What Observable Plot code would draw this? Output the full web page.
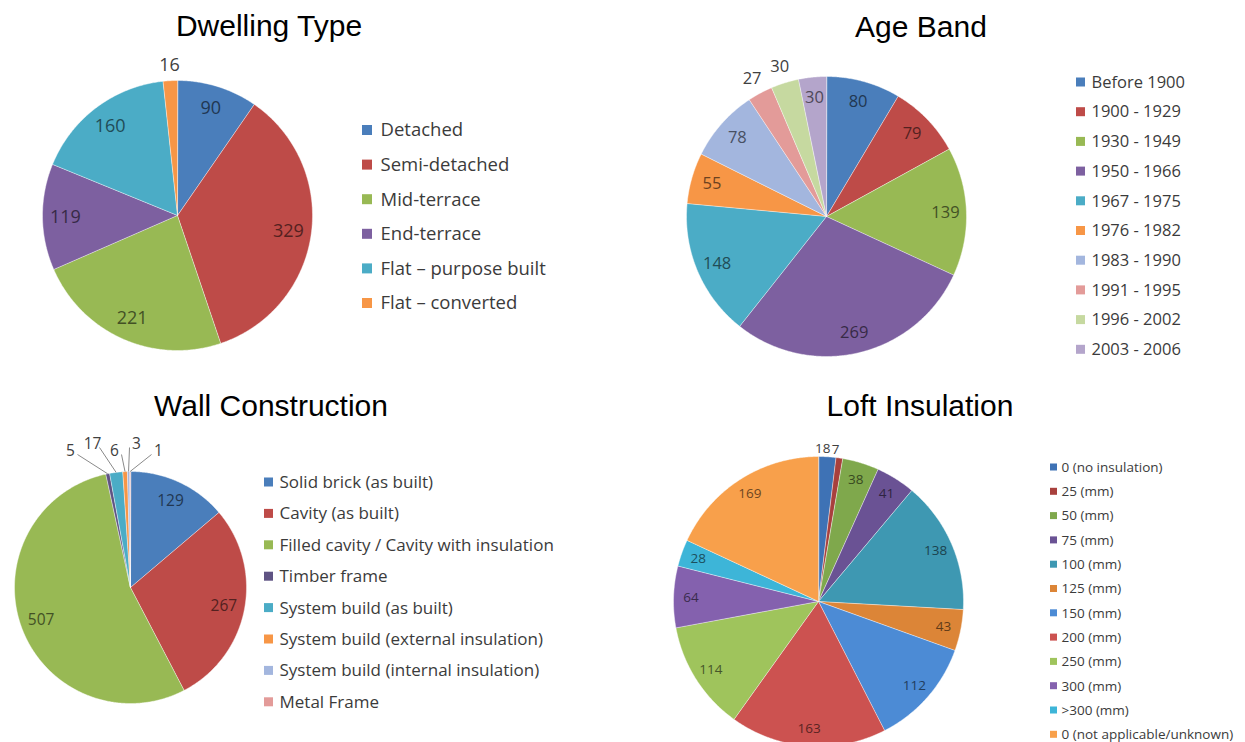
<!DOCTYPE html>
<html><head><meta charset="utf-8">
<script src="https://cdn.jsdelivr.net/npm/d3@7"></script>
<script src="https://cdn.jsdelivr.net/npm/@observablehq/plot@0.6"></script>
<style>
body{margin:0;background:#fff;}
#wrap{position:relative;width:1245px;height:742px;overflow:hidden;background:#fff}
.panel{position:absolute;}
.title{position:absolute;font-family:"Liberation Sans",Arial,sans-serif;font-size:30px;line-height:30px;color:#000;white-space:nowrap;transform:translateX(-50%);}
</style></head><body><div id="wrap"></div>
<script>
// ---------- data ----------
const dwellingCategories = ["Detached","Semi-detached","Mid-terrace","End-terrace","Flat \u2013 purpose built","Flat \u2013 converted"];
const dwellingValues = [90,329,221,119,160,16];
const dwellingColors = ["#4A7EBB","#BE4B48","#98B954","#7D60A0","#4BACC6","#F79646"];
const dwellingLabelMode = ["in","in","in","in","in","out"];

const ageCategories = ["Before 1900","1900 - 1929","1930 - 1949","1950 - 1966","1967 - 1975","1976 - 1982","1983 - 1990","1991 - 1995","1996 - 2002","2003 - 2006"];
const ageValues = [80,79,139,269,148,55,78,27,30,30];
const ageColors = ["#4A7EBB","#BE4B48","#98B954","#7D60A0","#4BACC6","#F79646","#A3B6DE","#E39B99","#C6D9A0","#B4A5CB"];
const ageLabelMode = ["in","in","in","in","in","in","in","out","out","in"];

const wallCategories = ["Solid brick (as built)","Cavity (as built)","Filled cavity / Cavity with insulation","Timber frame","System build (as built)","System build (external insulation)","System build (internal insulation)","Metal Frame"];
const wallValues = [129,267,507,5,17,6,3,1];
const wallColors = ["#4A7EBB","#BE4B48","#98B954","#5F5383","#4BACC6","#F79646","#A3B6DE","#E39B99"];
const wallLabelMode = ["in","in","in","lead","lead","lead","lead","lead"];

const loftCategories = ["0 (no insulation)","25 (mm)","50 (mm)","75 (mm)","100 (mm)","125 (mm)","150 (mm)","200 (mm)","250 (mm)","300 (mm)",">300 (mm)","0 (not applicable/unknown)"];
const loftValues = [18,7,38,41,138,43,112,163,114,64,28,169];
const loftColors = ["#3E72B5","#A8403D","#7FA84C","#6A5294","#3E98B2","#DC8537","#4C8BD5","#CC5250","#9FC45C","#8461AE","#3DB5D8","#F8A04B"];
const loftLabelMode = ["out","out","in","in","in","in","in","in","in","in","in","in"];

// ---------- layout ----------
const charts = [
  {title:"Dwelling Type", cats:dwellingCategories, vals:dwellingValues, colors:dwellingColors, modes:dwellingLabelMode,
   left:0, top:0, w:622, h:371, titleX:269, titleBase:36,
   cx:177, cy:215, r:135, labelK:0.83, labelSize:18, outR:15, outShift:0,
   legX:362, legSq:10, legTextX:380, legY0:130, legStep:34.6, legSize:18.5},
  {title:"Age Band", cats:ageCategories, vals:ageValues, colors:ageColors, modes:ageLabelMode,
   left:622, top:0, w:623, h:371, titleX:299, titleBase:37,
   cx:204, cy:216, r:140, labelK:0.85, labelSize:16.5, outR:17, outShift:0,
   legX:454, legSq:9, legTextX:469, legY0:82, legStep:29.7, legSize:16.5},
  {title:"Wall Construction", cats:wallCategories, vals:wallValues, colors:wallColors, modes:wallLabelMode,
   left:0, top:371, w:622, h:371, titleX:271, titleBase:45,
   cx:130, cy:216, r:116, labelK:0.82, labelSize:15.5, outR:15, outShift:0,
   legX:264, legSq:9, legTextX:279, legY0:111, legStep:31.4, legSize:17},
  {title:"Loft Insulation", cats:loftCategories, vals:loftValues, colors:loftColors, modes:loftLabelMode,
   left:622, top:371, w:623, h:371, titleX:298, titleBase:45,
   cx:196, cy:230, r:145, labelK:0.88, labelSize:13.5, outR:8, outShift:-5,
   legX:428, legSq:7, legTextX:439, legY0:96, legStep:24.3, legSize:13.5}
];

const wrap = document.getElementById("wrap");

for (const c of charts) {
  const arcs = d3.pie().sort(null)(c.vals);
  // slice polygons
  const pts = [];
  arcs.forEach((a, i) => {
    const n = Math.max(2, Math.ceil((a.endAngle - a.startAngle) / (Math.PI / 360)));
    pts.push({i, x: c.cx, y: c.cy});
    for (let k = 0; k <= n; k++) {
      const t = a.startAngle + (a.endAngle - a.startAngle) * k / n;
      pts.push({i, x: c.cx + c.r * Math.sin(t), y: c.cy - c.r * Math.cos(t)});
    }
  });
  // labels
  const labels = [], leaders = [];
  let j = 0;
  arcs.forEach((a, i) => {
    const m = (a.startAngle + a.endAngle) / 2;
    const mode = c.modes[i];
    if (mode === "in") {
      const rr = c.r * c.labelK;
      labels.push({x: c.cx + rr * Math.sin(m), y: c.cy - rr * Math.cos(m), text: String(c.vals[i]),
        fill: d3.color(c.colors[i]).darker(2.3).formatHex()});
    } else if (mode === "out") {
      const rr = c.r + c.outR;
      labels.push({x: c.cx + rr * Math.sin(m) + c.outShift, y: c.cy - rr * Math.cos(m), text: String(c.vals[i]), fill: "#404040"});
    } else {
      const lx = c.cx - 60 + j * 22;
      const ly = c.cy - c.r - 20 - (j % 2 ? 7 : 0);
      const ex = c.cx + c.r * Math.sin(m), ey = c.cy - c.r * Math.cos(m);
      const s = ex > lx ? 1 : -1;
      labels.push({x: lx, y: ly, text: String(c.vals[i]), fill: "#404040"});
      leaders.push({x1: lx + s * 7, y1: ly + 3, x2: ex, y2: ey});
      j++;
    }
  });
  // legend
  const legend = c.cats.map((name, i) => ({name, color: c.colors[i], y: c.legY0 + i * c.legStep}));

  const svg = Plot.plot({
    width: c.w, height: c.h, margin: 0,
    x: {domain: [0, c.w], range: [0, c.w], axis: null},
    y: {domain: [0, c.h], range: [0, c.h], axis: null},
    color: {type: "identity"},
    style: {background: "transparent"},
    marks: [
      Plot.line(pts, {x: "x", y: "y", z: "i", fill: d => c.colors[d.i], stroke: "#ffffff", strokeWidth: 0.8, strokeOpacity: 0.55, curve: "linear-closed"}),
      Plot.link(leaders, {x1: "x1", y1: "y1", x2: "x2", y2: "y2", stroke: "#8a8a8a", strokeWidth: 1}),
      Plot.text(labels, {x: "x", y: "y", text: "text", fill: "fill", fontSize: c.labelSize, fontFamily: "Open Sans"}),
      Plot.rect(legend, {x1: c.legX, x2: c.legX + c.legSq, y1: d => d.y - c.legSq / 2, y2: d => d.y + c.legSq / 2, fill: "color"}),
      Plot.text(legend, {x: c.legTextX, y: "y", text: "name", textAnchor: "start", fontSize: c.legSize, fontFamily: "Open Sans", fill: "#3b3b3b"})
    ]
  });
  const panel = document.createElement("div");
  panel.className = "panel";
  panel.style.left = c.left + "px";
  panel.style.top = c.top + "px";
  panel.style.width = c.w + "px";
  panel.style.height = c.h + "px";
  panel.style.overflow = "hidden";
  panel.appendChild(svg);
  const t = document.createElement("div");
  t.className = "title";
  t.textContent = c.title;
  t.style.left = c.titleX + "px";
  t.style.top = (c.titleBase - 25.4) + "px";
  panel.appendChild(t);
  wrap.appendChild(panel);
}
</script>
</body></html>
